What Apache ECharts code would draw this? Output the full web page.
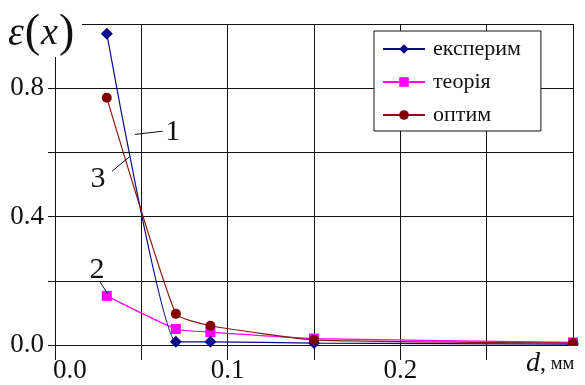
<!DOCTYPE html>
<html>
<head>
<meta charset="utf-8">
<script src="https://cdn.jsdelivr.net/npm/echarts@6/dist/echarts.min.js"></script>
<style>
  html, body { margin: 0; padding: 0; background: #fff; }
  #chart { width: 585px; height: 385px; }
</style>
</head>
<body>
<div id="chart"></div>
<script>
// Thickness d, mm
const dValues = [0.03, 0.07, 0.09, 0.15, 0.3];
// ε(x) for each curve
const experimValues = [0.97, 0.01, 0.01, 0.006, 0.003];
const teoriaValues  = [0.153, 0.05, 0.04, 0.02, 0.008];
const optimValues   = [0.77, 0.097, 0.06, 0.016, 0.006];
const seriesNames = ['експерим', 'теорія', 'оптим'];
const xTickLabels = ['0.0', '0.1', '0.2'];
const yTickLabels = ['0.0', '0.4', '0.8'];
// Curve numbers with their leader lines, in data coordinates
const curveTags = [
  { text: '1', at: [0.0682, 0.662], from: [0.0462, 0.656], to: [0.0624, 0.666] },
  { text: '2', at: [0.0243, 0.234], from: [0.026, 0.197], to: [0.0306, 0.159] },
  { text: '3', at: [0.0249, 0.516], from: [0.033, 0.541], to: [0.0434, 0.5875] }
];

const FONT = "'Liberation Serif', 'DejaVu Serif', serif";
const INK = '#111';
// Text is set at a moderate base size and enlarged with a scale transform
const BASE = 22;

function pairs(ys) { return dValues.map((x, i) => [x, ys[i]]); }

const chart = echarts.init(document.getElementById('chart'), null, { renderer: 'canvas' });

const option = {
  animation: false,
  backgroundColor: '#fff',
  grid: { left: 55, right: 12, top: 24, bottom: 40 },
  legend: {
    orient: 'vertical',
    left: 374, top: 31,
    padding: [7, 20, 5, 8],
    itemGap: 11,
    itemWidth: 42,
    itemHeight: 12,
    backgroundColor: '#fff',
    borderColor: INK,
    borderWidth: 1,
    textStyle: { fontFamily: FONT, fontSize: BASE, color: INK, padding: [0, 0, 0, 3] },
    data: seriesNames
  },
  xAxis: [{
    type: 'value', min: 0, max: 0.3, interval: 0.05,
    axisLine: { show: true, lineStyle: { color: INK, width: 1 } },
    axisTick: { show: true, length: 15, lineStyle: { color: INK } },
    splitLine: { show: true, lineStyle: { color: INK, width: 1 } },
    axisLabel: { show: false }
  }, {
    type: 'value', min: 0, max: 0.3, interval: 0.05, position: 'top',
    axisLine: { show: true, lineStyle: { color: INK, width: 1 } },
    axisTick: { show: true, length: 3, lineStyle: { color: INK } },
    axisLabel: { show: false }, splitLine: { show: false }
  }],
  yAxis: [{
    type: 'value', min: 0, max: 1.0, interval: 0.2,
    axisLine: { show: true, lineStyle: { color: INK, width: 1 } },
    axisTick: { show: true, length: 7, lineStyle: { color: INK } },
    splitLine: { show: true, lineStyle: { color: INK, width: 1 } },
    axisLabel: { show: false }
  }, {
    type: 'value', min: 0, max: 1.0, interval: 0.2, position: 'right',
    axisLine: { show: true, lineStyle: { color: INK, width: 1 } },
    axisTick: { show: true, length: 7, lineStyle: { color: INK } },
    axisLabel: { show: false }, splitLine: { show: false }
  }],
  series: [{
    name: seriesNames[0], type: 'line', smooth: 0.15,
    data: pairs(experimValues),
    symbol: 'diamond', symbolSize: 12,
    itemStyle: { color: '#0a0a8a' },
    lineStyle: { color: '#0a0a8a', width: 1.2 },
    z: 4
  }, {
    name: seriesNames[1], type: 'line', smooth: 0.15,
    data: pairs(teoriaValues),
    symbol: 'rect', symbolSize: 10,
    itemStyle: { color: '#ff00ff' },
    lineStyle: { color: '#ff00ff', width: 1.2 },
    z: 3
  }, {
    name: seriesNames[2], type: 'line', smooth: 0.15,
    data: pairs(optimValues),
    symbol: 'circle', symbolSize: 10,
    itemStyle: { color: '#800000' },
    lineStyle: { color: '#8b1515', width: 1.2 },
    z: 5
  }]
};

chart.setOption(option);

function scaledText(x, y, size, style, z) {
  const s = size / BASE;
  return {
    type: 'text', x: x, y: y, scaleX: s, scaleY: s, z: z || 20,
    style: Object.assign({ fontFamily: FONT, fontSize: BASE, fill: INK }, style)
  };
}

const graphics = [
  { type: 'rect', shape: { x: 0, y: 0, width: 82, height: 57 }, style: { fill: '#fff' }, z: 50, silent: true },
  // ε(x) axis title
  {
    type: 'text', x: 8, y: 11, scaleX: 2, scaleY: 2, z: 51,
    style: {
      text: '{e|ε}{p|(}{x|x}{p|)}',
      align: 'left', verticalAlign: 'top',
      rich: {
        e: { fontFamily: FONT, fontStyle: 'italic', fontSize: 20, fill: INK },
        p: { fontFamily: FONT, fontSize: 23, fill: INK, padding: [0, 0.5, 0, 0.5] },
        x: { fontFamily: FONT, fontStyle: 'italic', fontSize: 19, fill: INK }
      }
    }
  },
  { type: 'rect', shape: { x: 522, y: 346, width: 63, height: 39 }, style: { fill: '#fff' }, z: 50, silent: true },
  // d, мм axis title
  {
    type: 'text', x: 526, y: 350, scaleX: 4 / 3, scaleY: 4 / 3, z: 51,
    style: {
      text: '{d|d}{c|,}{m| мм}',
      align: 'left', verticalAlign: 'top',
      rich: {
        d: { fontFamily: FONT, fontStyle: 'italic', fontSize: 21, fill: INK },
        c: { fontFamily: FONT, fontSize: 18, fill: INK },
        m: { fontFamily: FONT, fontSize: 14, fill: INK }
      }
    }
  }
];

// Tick labels
xTickLabels.forEach((s, i) => {
  const p = chart.convertToPixel({ gridIndex: 0 }, [parseFloat(s), 0]);
  graphics.push(scaledText(i === 0 ? p[0] - 2 : p[0], p[1] + 12, 27,
    { text: s, align: i === 0 ? 'left' : 'center', verticalAlign: 'top' }));
});
yTickLabels.forEach(s => {
  const p = chart.convertToPixel({ gridIndex: 0 }, [0, parseFloat(s)]);
  graphics.push(scaledText(p[0] - 11, p[1], 27,
    { text: s, align: 'right', verticalAlign: 'middle' }));
});

// Curve numbers
curveTags.forEach(t => {
  const p = chart.convertToPixel({ gridIndex: 0 }, t.at);
  const a = chart.convertToPixel({ gridIndex: 0 }, t.from);
  const b = chart.convertToPixel({ gridIndex: 0 }, t.to);
  graphics.push({
    type: 'line', z: 20,
    shape: { x1: a[0], y1: a[1], x2: b[0], y2: b[1] },
    style: { stroke: INK, lineWidth: 1 }
  });
  graphics.push(scaledText(p[0], p[1], 30,
    { text: t.text, align: 'center', verticalAlign: 'middle' }));
});

chart.setOption({ graphic: graphics });
</script>
</body>
</html>
